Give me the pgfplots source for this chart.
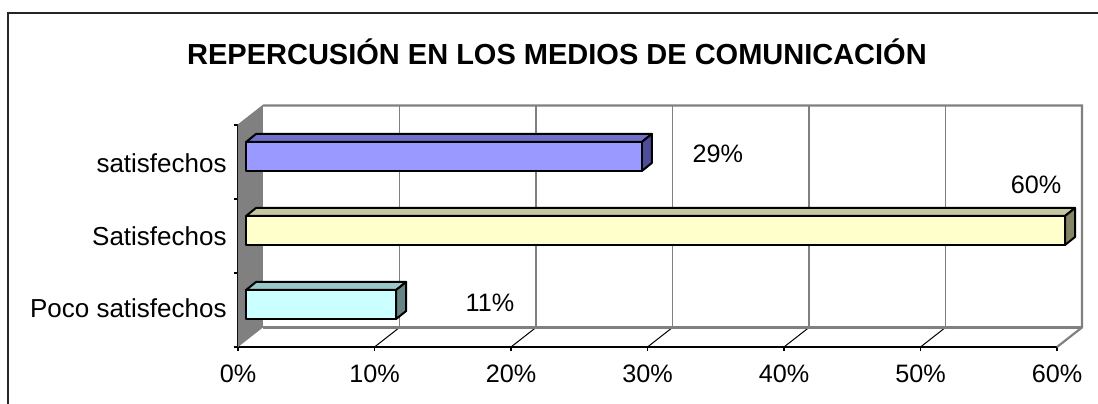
\documentclass[border=0pt]{standalone}
\usepackage{fontspec}
\setmainfont{Liberation Sans}
\usepackage{pgfplots}
\pgfplotsset{compat=1.18}
\definecolor{wallgray}{HTML}{808080}
\definecolor{blueF}{HTML}{9999FF}
\definecolor{blueT}{HTML}{7070C8}
\definecolor{blueS}{HTML}{4D4D99}
\definecolor{yelF}{HTML}{FFFFCC}
\definecolor{yelT}{HTML}{C8C8A0}
\definecolor{yelS}{HTML}{858566}
\definecolor{cyaF}{HTML}{CCFFFF}
\definecolor{cyaT}{HTML}{99C8C8}
\definecolor{cyaS}{HTML}{668585}
% 3D bar: #1 value, #2 category index, #3 front, #4 top, #5 side colour
\newcommand{\barthreeD}[5]{%
  \addplot[draw=black, line width=1pt, fill=#4, line join=round] coordinates {(0.59,#2+0.271) (#1+0.59,#2+0.271) (#1+1.32,#2+0.379) (1.32,#2+0.379)} -- cycle;
  \addplot[draw=black, line width=1pt, fill=#5, line join=round] coordinates {(#1+0.59,#2-0.121) (#1+1.32,#2-0.013) (#1+1.32,#2+0.379) (#1+0.59,#2+0.271)} -- cycle;
  \addplot[draw=black, line width=1pt, fill=#3, line join=round] coordinates {(0.59,#2-0.121) (#1+0.59,#2-0.121) (#1+0.59,#2+0.271) (0.59,#2+0.271)} -- cycle;
}
\begin{document}
\begin{tikzpicture}
\draw[line width=1pt, black!85] (-115pt,-40pt) -- (-115pt,167pt) -- (440pt,167pt);
\begin{axis}[
  scale only axis, width=409.5pt, height=111pt,
  xmin=0, xmax=60, ymin=-0.5, ymax=2.5,
  clip=false,
  axis x line*=bottom, axis y line*=left,
  axis line style={black, line width=0.8pt, -},
  xtick={0,10,...,60},
  xticklabel={\pgfmathprintnumber{\tick}\%},
  tick align=outside, major tick length=2pt,
  tick style={black, line width=0.6pt},
  xticklabel style={inner sep=0pt, anchor=north, yshift=-6.5pt, font=\fontsize{12.6}{15}\selectfont},
  ytick={0.027,1,1.986},
  yticklabels={Poco satisfechos, Satisfechos, satisfechos},
  ytick style={draw=none},
  yticklabel style={inner sep=0pt, anchor=east, xshift=-3.5pt, font=\fontsize{13}{15}\selectfont},
  extra y ticks={-0.5,0.5,1.5,2.5}, extra y tick labels={},
  extra y tick style={ytick style={draw=black}, major tick length=2pt},
  /pgf/number format/assume math mode=true,
]
% left wall
\fill[wallgray] (0,-0.5) -- (0,2.5) -- (1.83,2.764) -- (1.83,-0.236) -- cycle;
\draw[wallgray, line width=0.6pt] (0,2.5) -- (1.83,2.764);
% back wall grid
\pgfplotsinvokeforeach{10,20,30,40,50}{
  \draw[wallgray, line width=0.6pt] (#1+1.83,-0.236) -- (#1+1.83,2.764);
  \draw[black, line width=0.5pt] (#1,-0.5) -- (#1+1.83,-0.236);
}
\draw[wallgray, line width=1.1pt] (1.83,2.764) -- (61.83,2.764) -- (61.83,-0.236) -- (60,-0.5);
\draw[wallgray, line width=1.1pt] (1.83,-0.236) -- (61.83,-0.236);
% bars
\barthreeD{11}{0}{cyaF}{cyaT}{cyaS}
\barthreeD{60}{1}{yelF}{yelT}{yelS}
\barthreeD{29}{2}{blueF}{blueT}{blueS}
% data labels
\node[anchor=base, font=\fontsize{12.6}{15}\selectfont] at (35.16,2.0) {29\%};
\node[anchor=base, font=\fontsize{12.6}{15}\selectfont] at (58.46,1.58) {60\%};
\node[anchor=base, font=\fontsize{12.6}{15}\selectfont] at (18.46,-0.014) {11\%};
\end{axis}
\node[anchor=base, font=\fontsize{14.5}{17}\selectfont\bfseries] at (159.5pt,141.5pt) {REPERCUSIÓN EN LOS MEDIOS DE COMUNICACIÓN};
\pgfresetboundingbox
\useasboundingbox (-119pt,-28pt) rectangle (430pt,173.5pt);
\end{tikzpicture}
\end{document}
